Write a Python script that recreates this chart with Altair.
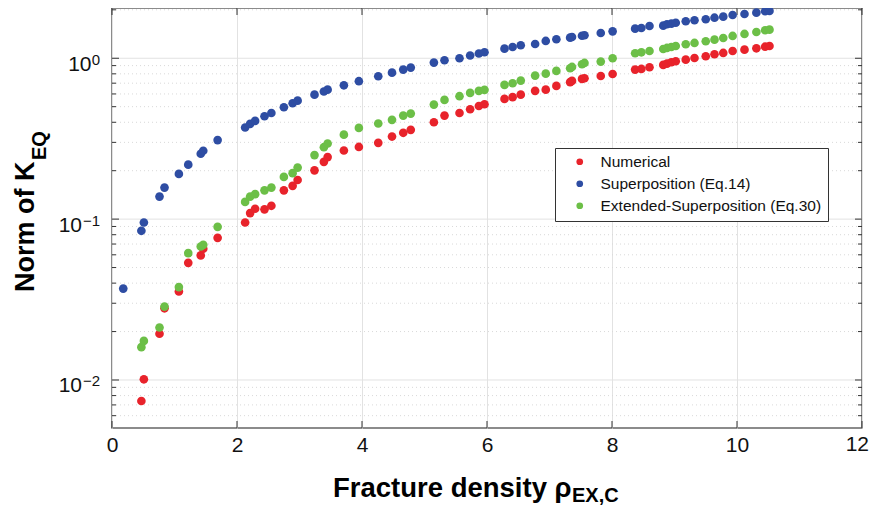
import altair as alt
import pandas as pd

# ---------------- data ----------------
x_num = [0.47, 0.51, 0.76, 0.84, 1.07, 1.22, 1.42, 1.46, 1.69, 2.13, 2.21, 2.29, 2.44, 2.55,
         2.75, 2.89, 2.97, 3.24, 3.39, 3.45, 3.71, 3.95, 4.26, 4.48, 4.66, 4.78, 5.15, 5.32,
         5.56, 5.73, 5.87, 5.96, 6.28, 6.41, 6.54, 6.77, 6.94, 7.11, 7.33, 7.36, 7.52, 7.56,
         7.82, 8.01, 8.37, 8.47, 8.60, 8.82, 8.88, 8.95, 9.02, 9.18, 9.32, 9.50, 9.64, 9.78,
         9.93, 10.12, 10.31, 10.45, 10.52]
y_num = [0.0074, 0.0101, 0.0194, 0.0279, 0.0355, 0.0535, 0.0595, 0.0654, 0.0765, 0.0953,
         0.109, 0.116, 0.115, 0.121, 0.151, 0.161, 0.175, 0.201, 0.227, 0.243, 0.267, 0.281,
         0.298, 0.326, 0.344, 0.359, 0.400, 0.440, 0.457, 0.482, 0.505, 0.518, 0.559, 0.573,
         0.594, 0.627, 0.638, 0.673, 0.710, 0.723, 0.744, 0.751, 0.776, 0.798, 0.850, 0.858,
         0.879, 0.909, 0.926, 0.944, 0.958, 0.980, 1.004, 1.029, 1.059, 1.079, 1.110, 1.131,
         1.153, 1.180, 1.192]

x_sup = [0.18] + x_num
y_sup = [0.037, 0.0846, 0.0953, 0.138, 0.157, 0.191, 0.218, 0.255, 0.266, 0.310, 0.371,
         0.391, 0.408, 0.436, 0.457, 0.496, 0.525, 0.545, 0.594, 0.621, 0.638, 0.679, 0.720,
         0.773, 0.814, 0.850, 0.875, 0.940, 0.972, 1.000, 1.040, 1.070, 1.090, 1.147, 1.175,
         1.205, 1.227, 1.281, 1.312, 1.343, 1.355, 1.380, 1.390, 1.436, 1.470, 1.527, 1.542,
         1.587, 1.594, 1.626, 1.640, 1.663, 1.698, 1.722, 1.747, 1.787, 1.813, 1.858, 1.884,
         1.920, 1.959, 1.967]

x_ext = x_num
y_ext = [0.0160, 0.0175, 0.0212, 0.0286, 0.0378, 0.0615, 0.0676, 0.0692, 0.0895, 0.128,
         0.138, 0.143, 0.151, 0.157, 0.183, 0.193, 0.209, 0.250, 0.280, 0.295, 0.335, 0.369,
         0.393, 0.414, 0.440, 0.453, 0.515, 0.551, 0.581, 0.609, 0.627, 0.636, 0.683, 0.699,
         0.726, 0.780, 0.802, 0.834, 0.867, 0.883, 0.918, 0.935, 0.953, 1.000, 1.074, 1.089,
         1.110, 1.142, 1.159, 1.175, 1.192, 1.222, 1.245, 1.275, 1.305, 1.337, 1.376, 1.416,
         1.456, 1.493, 1.506]

series_names = ["Numerical", "Superposition (Eq.14)", "Extended-Superposition (Eq.30)"]
series_colors = ["#e8232b", "#2e4da3", "#6cbf47"]

x_ticks = [0, 2, 4, 6, 8, 10, 12]
y_major = [0.01, 0.1, 1.0]
y_exps = ["\u22122", "\u22121", "0"]
y_minor = [0.006, 0.007, 0.008, 0.009,
           0.02, 0.03, 0.04, 0.05, 0.06, 0.07, 0.08, 0.09,
           0.2, 0.3, 0.4, 0.5, 0.6, 0.7, 0.8, 0.9, 2.0]

x_title = "Fracture density \u03c1"
x_title_sub = "EX,C"
y_title = "Norm of K"
y_title_sub = "EQ"

# ---------------- build ----------------
W, H = 750, 420
FONT = "Liberation Sans, Arial, Helvetica, sans-serif"

rows = []
for name, xs_, ys_ in [(series_names[0], x_num, y_num),
                       (series_names[1], x_sup, y_sup),
                       (series_names[2], x_ext, y_ext)]:
    for a, b in zip(xs_, ys_):
        rows.append({"series": name, "x": a, "y": b})
df = pd.DataFrame(rows)

xscale = alt.Scale(domain=[0, 12], nice=False, zero=False)
yscale = alt.Scale(type="log", domain=[0.00503, 2.053], nice=False)

xaxis = alt.Axis(values=x_ticks, grid=True, gridColor="#e2e2e2", gridWidth=1,
                 ticks=False, domain=False, labelFontSize=21, labelFont=FONT,
                 labelColor="#111111", labelPadding=6, labelFlush=False,
                 labelOverlap=False, title=None, format="d",
                 labelExpr="datum.value == 12 ? '' : datum.label")

X = lambda f: alt.X(f, scale=xscale, axis=xaxis)
Y = lambda f: alt.Y(f, scale=yscale, axis=None)

df_minor = pd.DataFrame({"v": y_minor})
df_major = pd.DataFrame({"v": y_major, "e": y_exps})
df_xt = pd.DataFrame({"v": x_ticks})

minor_grid = alt.Chart(df_minor).mark_rule(color="#d9d9d9", strokeDash=[1, 3], strokeWidth=1).encode(
    y=Y("v:Q"), x=alt.value(0), x2=alt.value(W))
major_grid = alt.Chart(df_major).mark_rule(color="#e2e2e2", strokeWidth=1).encode(
    y=Y("v:Q"), x=alt.value(0), x2=alt.value(W))

tick_color = "#333333"
xt_bottom = alt.Chart(df_xt).mark_rule(color=tick_color, strokeWidth=1).encode(
    x=X("v:Q"), y=alt.value(H), y2=alt.value(H - 7))
xt_top = alt.Chart(df_xt).mark_rule(color=tick_color, strokeWidth=1).encode(
    x=X("v:Q"), y=alt.value(0), y2=alt.value(7))
yt_left = alt.Chart(df_major).mark_rule(color=tick_color, strokeWidth=1).encode(
    y=Y("v:Q"), x=alt.value(0), x2=alt.value(7))
yt_right = alt.Chart(df_major).mark_rule(color=tick_color, strokeWidth=1).encode(
    y=Y("v:Q"), x=alt.value(W - 7), x2=alt.value(W))
ym_left = alt.Chart(df_minor).mark_rule(color=tick_color, strokeWidth=1).encode(
    y=Y("v:Q"), x=alt.value(0), x2=alt.value(4))
ym_right = alt.Chart(df_minor).mark_rule(color=tick_color, strokeWidth=1).encode(
    y=Y("v:Q"), x=alt.value(W - 4), x2=alt.value(W))

points = alt.Chart(df).mark_circle(size=75, opacity=1).encode(
    x=X("x:Q"),
    y=Y("y:Q"),
    color=alt.Color("series:N", sort=series_names,
                    scale=alt.Scale(domain=series_names, range=series_colors),
                    legend=alt.Legend(title=None, orient="none", legendX=443, legendY=140,
                                      strokeColor="#333333", fillColor="white", padding=6,
                                      labelFontSize=15.5, labelFont=FONT, labelColor="#111111",
                                      symbolSize=45, symbolType="circle", rowPadding=5,
                                      symbolOffset=11, labelOffset=13, labelLimit=400,
                                      symbolStrokeWidth=0)),
)

# last x tick label, kept inside the picture
last_lab = alt.Chart(pd.DataFrame({"t": ["12"]})).mark_text(
    align="right", baseline="top", fontSize=21, font=FONT, color="#111111").encode(
    x=alt.value(W + 7), y=alt.value(H + 6), text="t:N")

# y tick labels with superscripts
ylabels = []
for v, e in zip(y_major, y_exps):
    d = pd.DataFrame({"v": [v], "b": ["10"], "e": [e]})
    ew = 8.5 if len(e) == 1 else 18
    ylabels.append(alt.Chart(d).mark_text(align="right", baseline="alphabetic", fontSize=21,
                                          font=FONT, color="#111111", dy=12.5).encode(
        y=Y("v:Q"), x=alt.value(-12 - ew), text="b:N"))
    ylabels.append(alt.Chart(d).mark_text(align="right", baseline="alphabetic", fontSize=15,
                                          font=FONT, color="#111111", dy=6.5).encode(
        y=Y("v:Q"), x=alt.value(-12), text="e:N"))

def label(t, x, y, size, angle=0):
    return alt.Chart(pd.DataFrame({"t": [t]})).mark_text(
        align="left", baseline="alphabetic", fontSize=size, fontWeight="bold",
        font=FONT, color="#000000", angle=angle).encode(
        x=alt.value(x), y=alt.value(y), text="t:N")

titles = [
    label(x_title, 221, 489, 27.5),
    label(x_title_sub, 460, 494, 20),
    label(y_title, -78, 284, 27, angle=270),
    label(y_title_sub, -66, 152, 20, angle=270),
]

chart = alt.layer(minor_grid, major_grid, xt_bottom, xt_top, yt_left, yt_right, ym_left,
                  ym_right, points, last_lab, *ylabels, *titles).properties(
    width=W, height=H, autosize="none",
    padding={"left": 104, "top": 0, "right": 7, "bottom": 79},
    background="white",
).configure_view(stroke="#666666", strokeWidth=1.5)

chart.save("out.html", embed_options={"renderer": "svg", "actions": False})
